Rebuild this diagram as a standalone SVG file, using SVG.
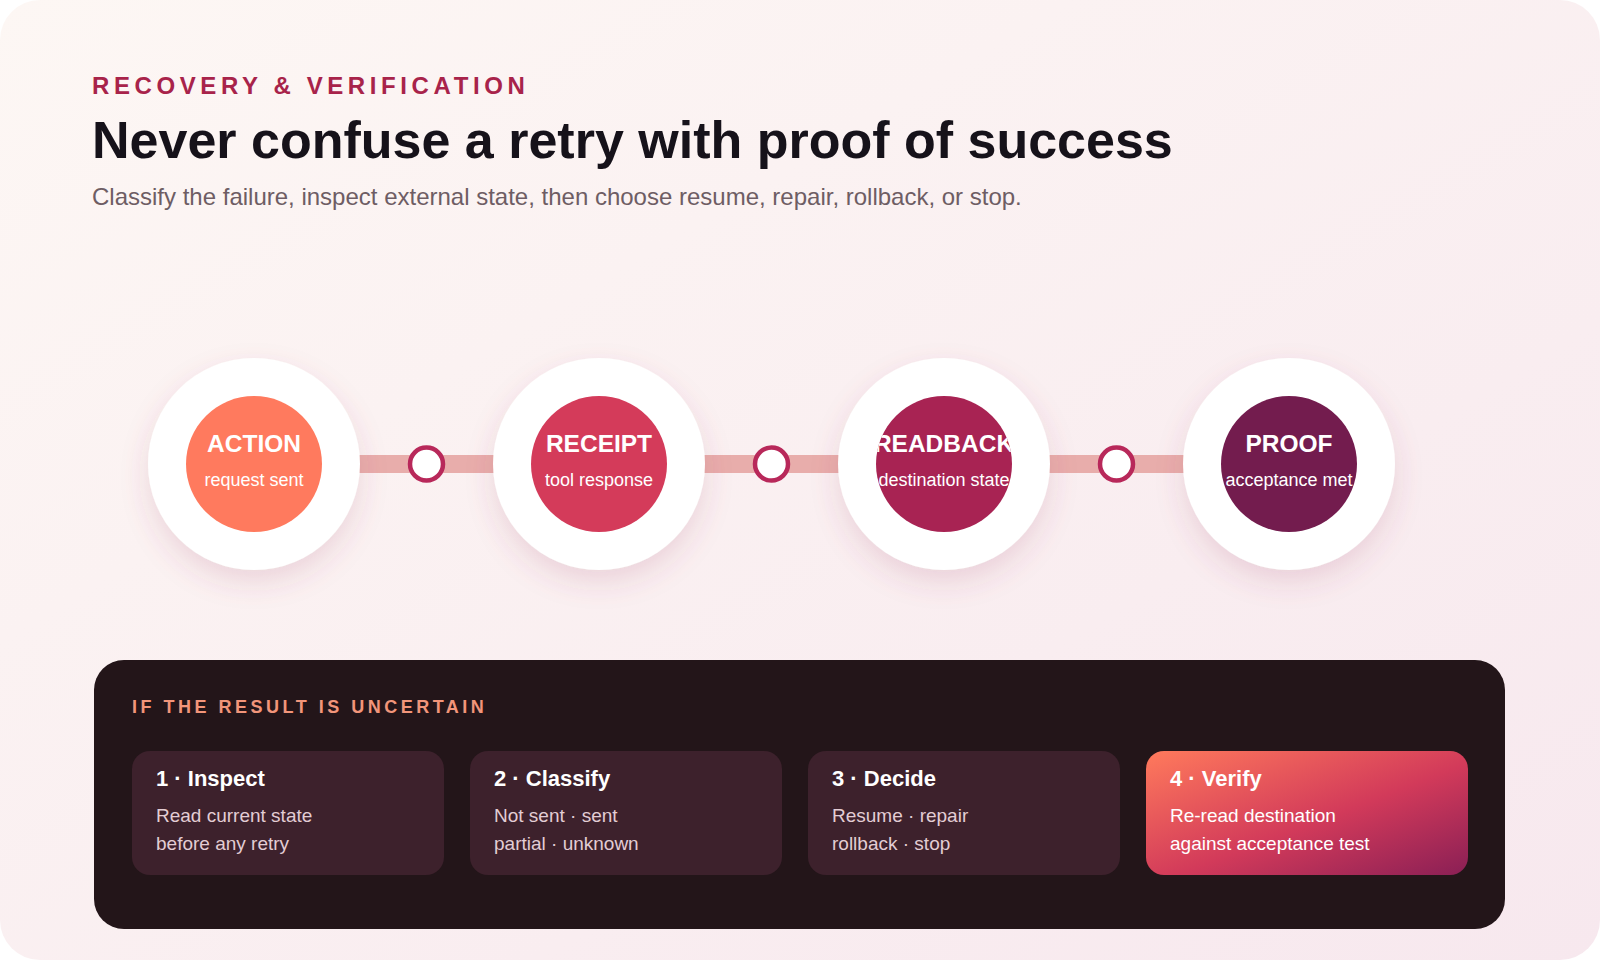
<svg xmlns="http://www.w3.org/2000/svg" width="1600" height="960" viewBox="0 0 1600 960">
  <defs>
    <linearGradient id="bg" x1="0" y1="0" x2="1" y2="1">
      <stop offset="0" stop-color="#fdf7f4"/>
      <stop offset="1" stop-color="#f7e8ee"/>
    </linearGradient>
    <linearGradient id="verify" x1="0" y1="0" x2="1" y2="1">
      <stop offset="0" stop-color="#ff7a5c"/>
      <stop offset="0.55" stop-color="#d23a5a"/>
      <stop offset="1" stop-color="#8a1f55"/>
    </linearGradient>
    <filter id="shadow" x="-40%" y="-40%" width="180%" height="190%">
      <feDropShadow dx="0" dy="12" stdDeviation="14" flood-color="#9b3b64" flood-opacity="0.16"/>
    </filter>
    <clipPath id="c1"><circle cx="254" cy="464" r="68"/></clipPath>
    <clipPath id="c2"><circle cx="599" cy="464" r="68"/></clipPath>
    <clipPath id="c3"><circle cx="944" cy="464" r="68"/></clipPath>
    <clipPath id="c4"><circle cx="1289" cy="464" r="68"/></clipPath>
  </defs>
  <style>
    text { font-family: "Liberation Sans", Arial, sans-serif; }
    .outer { fill: #ffffff; filter: url(#shadow); }
    .nt { fill: #ffffff; font-size: 24.5px; font-weight: bold; text-anchor: middle; }
    .ns { fill: #ffffff; font-size: 18px; text-anchor: middle; }
    .bar { fill: #e8adab; }
    .dot { fill: #ffffff; stroke: #b8285a; stroke-width: 4.5; }
    .card { fill: #3d212c; }
    .ct { fill: #ffffff; font-size: 22px; font-weight: bold; }
    .cb { fill: #e3cdd4; font-size: 19px; }
    .cbw { fill: #ffffff; font-size: 19px; }
  </style>

  <rect x="0" y="0" width="1600" height="960" fill="#ffffff"/>
  <rect x="0" y="0" width="1600" height="960" rx="40" fill="url(#bg)"/>

  <g id="header">
    <text x="92" y="94" fill="#a8234a" font-size="24" font-weight="bold" letter-spacing="4.6">RECOVERY &amp; VERIFICATION</text>
    <text x="92" y="158" fill="#16121a" font-size="52" font-weight="bold">Never confuse a retry with proof of success</text>
    <text x="92" y="205" fill="#6e5d64" font-size="24">Classify the failure, inspect external state, then choose resume, repair, rollback, or stop.</text>
  </g>

  <g id="connectors">
    <rect class="bar" x="340" y="455" width="280" height="18"/>
    <rect class="bar" x="685" y="455" width="280" height="18"/>
    <rect class="bar" x="1030" y="455" width="280" height="18"/>
    <circle class="dot" cx="426.5" cy="464" r="16.5"/>
    <circle class="dot" cx="771.5" cy="464" r="16.5"/>
    <circle class="dot" cx="1116.5" cy="464" r="16.5"/>
  </g>

  <g id="node-action">
    <circle class="outer" cx="254" cy="464" r="106"/>
    <circle cx="254" cy="464" r="68" fill="#ff7a5e"/>
    <g clip-path="url(#c1)">
      <text class="nt" x="254" y="452">ACTION</text>
      <text class="ns" x="254" y="486">request sent</text>
    </g>
  </g>
  <g id="node-receipt">
    <circle class="outer" cx="599" cy="464" r="106"/>
    <circle cx="599" cy="464" r="68" fill="#d43b5a"/>
    <g clip-path="url(#c2)">
      <text class="nt" x="599" y="452">RECEIPT</text>
      <text class="ns" x="599" y="486">tool response</text>
    </g>
  </g>
  <g id="node-readback">
    <circle class="outer" cx="944" cy="464" r="106"/>
    <circle cx="944" cy="464" r="68" fill="#a82353"/>
    <g clip-path="url(#c3)">
      <text class="nt" x="944" y="452">READBACK</text>
      <text class="ns" x="944" y="486">destination state</text>
    </g>
  </g>
  <g id="node-proof">
    <circle class="outer" cx="1289" cy="464" r="106"/>
    <circle cx="1289" cy="464" r="68" fill="#731c4e"/>
    <g clip-path="url(#c4)">
      <text class="nt" x="1289" y="452">PROOF</text>
      <text class="ns" x="1289" y="486">acceptance met</text>
    </g>
  </g>

  <g id="panel">
    <rect x="94" y="660" width="1411" height="269" rx="30" fill="#231519"/>
    <text x="132" y="713" fill="#f2957a" font-size="18" font-weight="bold" letter-spacing="3.5">IF THE RESULT IS UNCERTAIN</text>
  </g>

  <g id="card-inspect">
    <rect class="card" x="132" y="751" width="312" height="124" rx="18"/>
    <text class="ct" x="156" y="786">1 · Inspect</text>
    <text class="cb" x="156" y="822">Read current state</text>
    <text class="cb" x="156" y="850">before any retry</text>
  </g>
  <g id="card-classify">
    <rect class="card" x="470" y="751" width="312" height="124" rx="18"/>
    <text class="ct" x="494" y="786">2 · Classify</text>
    <text class="cb" x="494" y="822">Not sent · sent</text>
    <text class="cb" x="494" y="850">partial · unknown</text>
  </g>
  <g id="card-decide">
    <rect class="card" x="808" y="751" width="312" height="124" rx="18"/>
    <text class="ct" x="832" y="786">3 · Decide</text>
    <text class="cb" x="832" y="822">Resume · repair</text>
    <text class="cb" x="832" y="850">rollback · stop</text>
  </g>
  <g id="card-verify">
    <rect x="1146" y="751" width="322" height="124" rx="18" fill="url(#verify)"/>
    <text class="ct" x="1170" y="786">4 · Verify</text>
    <text class="cbw" x="1170" y="822">Re-read destination</text>
    <text class="cbw" x="1170" y="850">against acceptance test</text>
  </g>
</svg>
